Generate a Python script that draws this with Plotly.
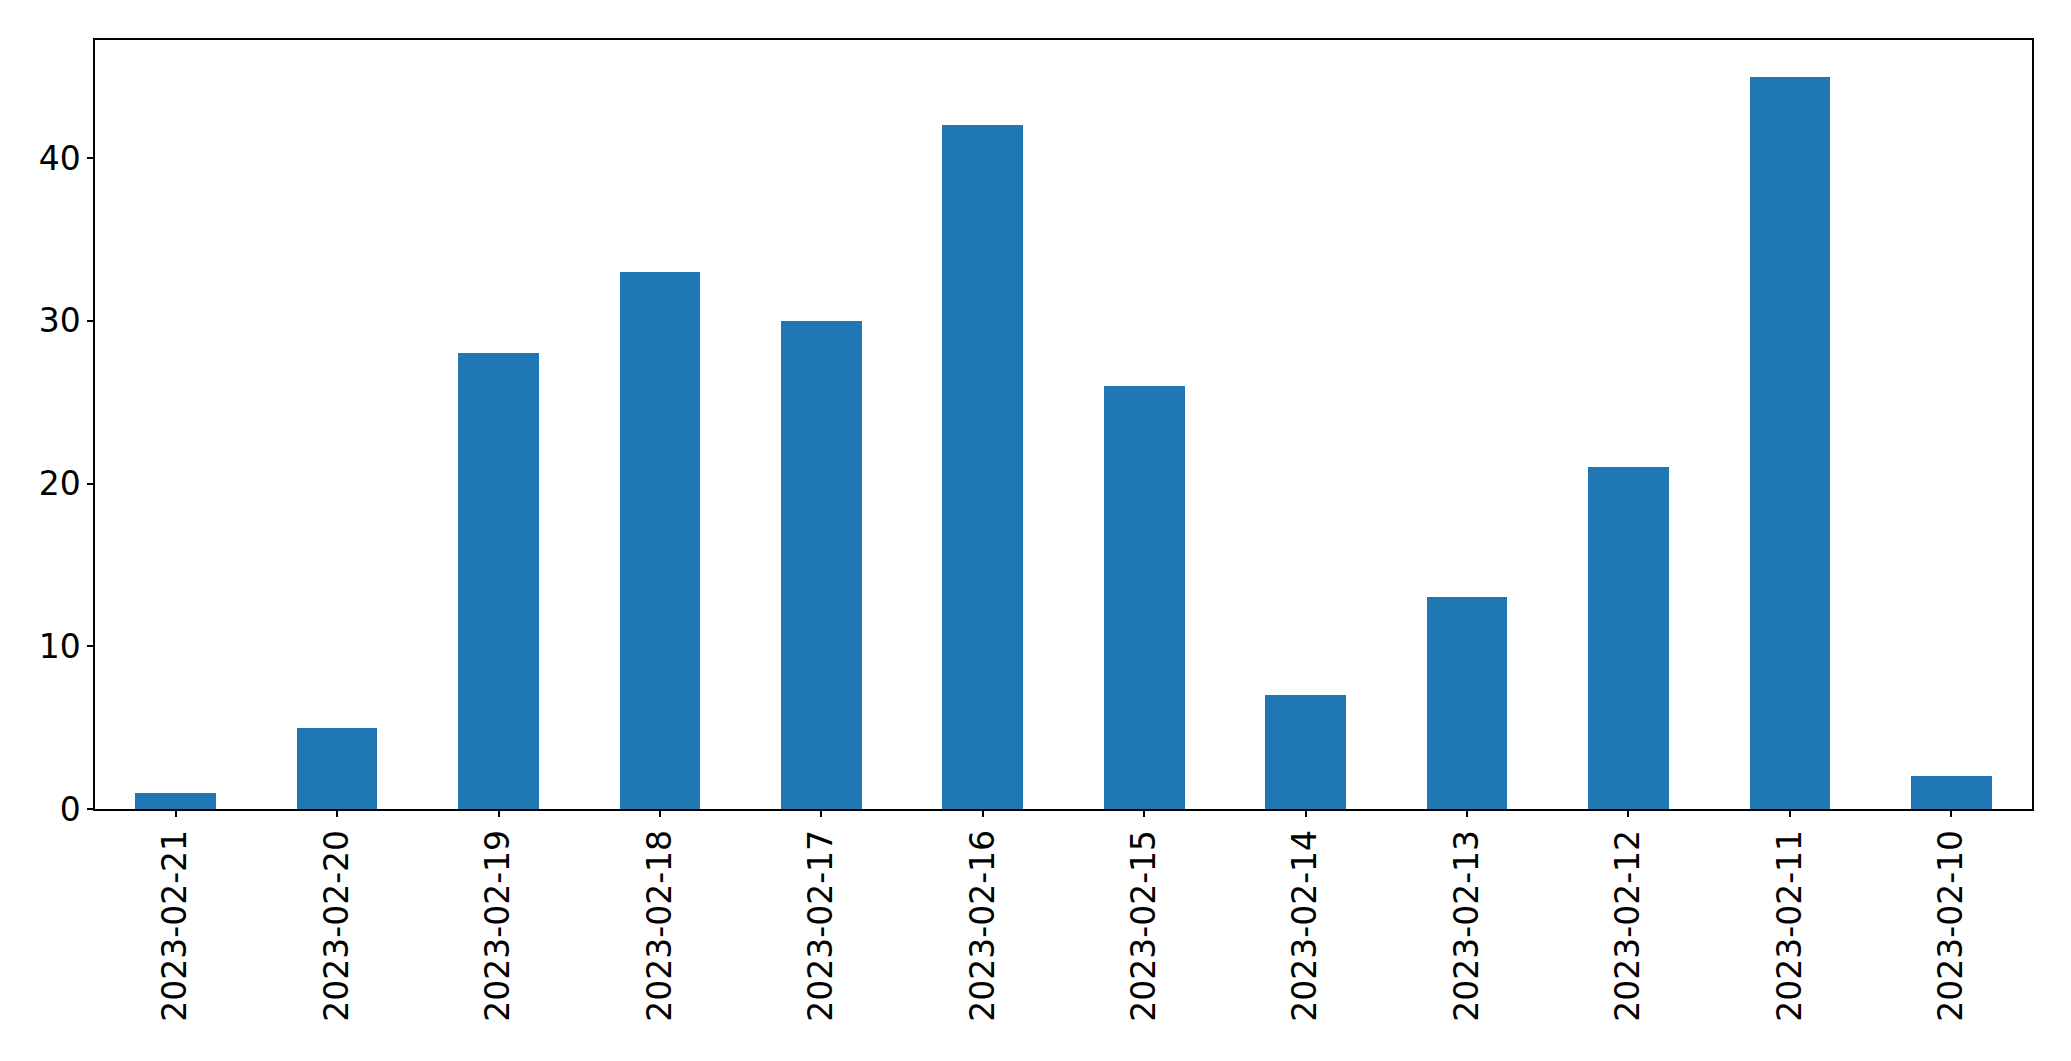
import plotly.graph_objects as go

dates = ["2023-02-21", "2023-02-20", "2023-02-19", "2023-02-18", "2023-02-17", "2023-02-16",
         "2023-02-15", "2023-02-14", "2023-02-13", "2023-02-12", "2023-02-11", "2023-02-10"]
counts = [1, 5, 28, 33, 30, 42, 26, 7, 13, 21, 45, 2]
y_ticks = [0, 10, 20, 30, 40]

fig = go.Figure(go.Bar(x=dates, y=counts, marker=dict(color="#1f77b4", line=dict(width=0)), width=0.5))

fig.update_layout(
    width=2063, height=1053,
    margin=dict(l=87, r=39, t=32, b=252),
    paper_bgcolor="white", plot_bgcolor="white",
    font=dict(family="DejaVu Sans", size=33, color="black"),
    showlegend=False,
    bargap=0,
)
fig.update_xaxes(
    type="category", range=[-0.5, len(dates) - 0.5], tickangle=-90,
    showline=True, linecolor="black", linewidth=1.5, mirror=True,
    ticks="outside", ticklen=6, tickcolor="black", tickwidth=1.5,
    showgrid=False, zeroline=False, ticklabelstandoff=0,
)
fig.update_yaxes(
    range=[0, max(counts) * 1.05], tickvals=y_ticks,
    showline=True, linecolor="black", linewidth=1.5, mirror=True,
    ticks="outside", ticklen=6, tickcolor="black", tickwidth=1.5,
    showgrid=False, zeroline=False,
)
fig.write_html("out.html")
